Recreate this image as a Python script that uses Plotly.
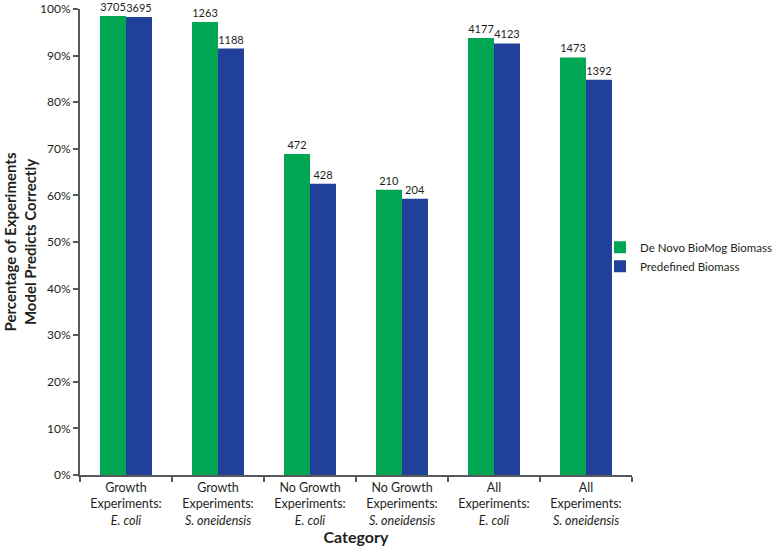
import plotly.graph_objects as go

categories = [
    "Growth<br>Experiments:<br><i>E. coli</i>",
    "Growth<br>Experiments:<br><i>S. oneidensis</i>",
    "No Growth<br>Experiments:<br><i>E. coli</i>",
    "No Growth<br>Experiments:<br><i>S. oneidensis</i>",
    "All<br>Experiments:<br><i>E. coli</i>",
    "All<br>Experiments:<br><i>S. oneidensis</i>",
]
denovo_pct = [0.985, 0.972, 0.689, 0.612, 0.938, 0.896]
predef_pct = [0.983, 0.915, 0.625, 0.593, 0.926, 0.848]
denovo_counts = [3705, 1263, 472, 210, 4177, 1473]
predef_counts = [3695, 1188, 428, 204, 4123, 1392]
y_tickvals = [i / 10 for i in range(11)]

GREEN = "#00A651"
BLUE = "#21409A"
TXT = "#231F20"
AX = "#58595B"
FONT = "Lato, 'Open Sans', sans-serif"

fig = go.Figure()
fig.add_trace(go.Bar(
    x=categories, y=denovo_pct, name="De Novo BioMog Biomass",
    marker=dict(color=GREEN, line=dict(width=0)),
    text=[str(v) for v in denovo_counts], textposition="outside",
    textfont=dict(size=11, color=TXT, family=FONT), cliponaxis=False,
    constraintext="none",
))
fig.add_trace(go.Bar(
    x=categories, y=predef_pct, name="Predefined Biomass",
    marker=dict(color=BLUE, line=dict(width=0)),
    text=[str(v) for v in predef_counts], textposition="outside",
    textfont=dict(size=11, color=TXT, family=FONT), cliponaxis=False,
    constraintext="none",
))

fig.update_layout(
    width=772, height=546,
    margin=dict(l=80, r=140, t=9, b=71, autoexpand=False),
    paper_bgcolor="white", plot_bgcolor="white",
    barmode="group", bargap=0.435, bargroupgap=0,
    font=dict(family=FONT, size=13, color=TXT),
    showlegend=True,
    legend=dict(x=0.942, xanchor="left", y=0.52, yanchor="top",
                font=dict(size=11.5, color=TXT, family=FONT),
                bgcolor="rgba(0,0,0,0)", tracegroupgap=0, itemwidth=30),
    uniformtext=dict(mode=False),
)
fig.update_xaxes(
    automargin=False,
    showline=True, linecolor=AX, linewidth=2,
    ticks="outside", tickson="boundaries", ticklen=5, tickcolor=AX, tickwidth=2,
    tickfont=dict(family=FONT, size=12.5, color=TXT),
    title=dict(text="<b>Category</b>", font=dict(size=16, family=FONT, color=TXT), standoff=0),
    showgrid=False, zeroline=False,
)
fig.update_yaxes(
    automargin=False,
    range=[0, 1], tickvals=y_tickvals, tickformat=".0%",
    showline=True, linecolor=AX, linewidth=2,
    ticks="outside", ticklen=5, tickcolor=AX, tickwidth=2,
    tickfont=dict(size=12, color=TXT, family=FONT),
    title=dict(text="<b>Percentage of Experiments<br>Model Predicts Correctly</b>",
               font=dict(size=15, family=FONT, color=TXT), standoff=0),
    showgrid=False, zeroline=False,
)
fig.write_html("out.html", config={"displayModeBar": False},
               post_script="document.body.style.margin='0px';")
